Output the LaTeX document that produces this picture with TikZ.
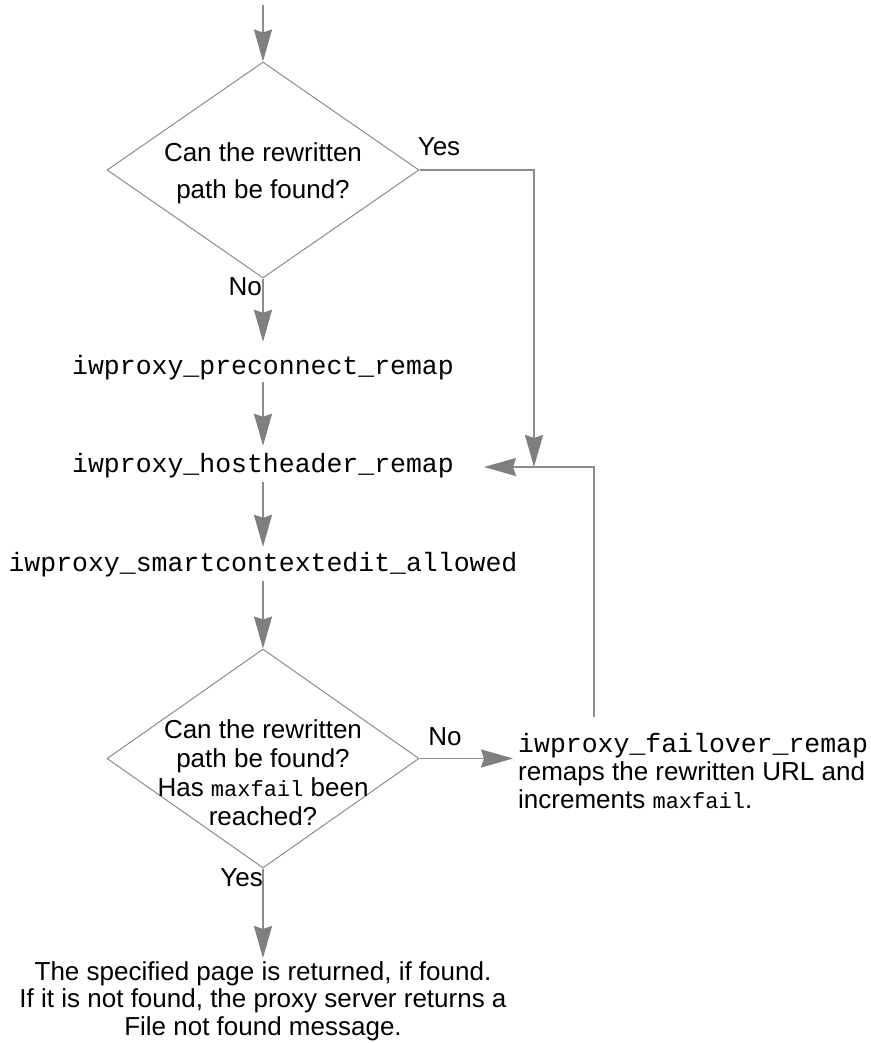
\documentclass[tikz,border=0pt]{standalone}
\usepackage{fontspec}
\setmainfont{Liberation Sans}
\setmonofont{Liberation Mono}
\usetikzlibrary{arrows.meta,calc,shapes.geometric}
\definecolor{ln}{HTML}{8C8C8C}
\definecolor{ah}{HTML}{7F7F7F}
\begin{document}
\begin{tikzpicture}[x=1pt,y=-1pt,
  conn/.style={draw=ln, line width=1.8pt, -{Stealth[length=32pt,width=18pt,inset=3pt,color=ah]}},
  dia/.style={draw=ln, line width=1pt, diamond, minimum width=312pt, minimum height=216pt, inner sep=0pt},
  txt/.style={font=\fontsize{26}{29}\selectfont, inner sep=0pt, align=center},
  code/.style={font=\ttfamily\fontsize{26.5}{30}\selectfont, inner sep=0pt, text height=18pt, text depth=6pt},
  lbl/.style={font=\fontsize{26}{29}\selectfont, inner sep=0pt},
]
\useasboundingbox (0,0) rectangle (870,1043);
\fill[white] (0,0) rectangle (870,1043);

% decision nodes
\node[dia] (d1) at (263,170) {};
\node[txt, font=\fontsize{26}{37}\selectfont, anchor=north] (q1) at (263,142) {Can the rewritten\\path be found?};

\node[code] (pre) at (263,368) {iwproxy\_preconnect\_remap};
\node[code] (host) at (263,466) {iwproxy\_hostheader\_remap};
\node[code] (smart) at (263,565) {iwproxy\_smartcontextedit\_allowed};

\node[dia, minimum height=219pt] (d2) at (263,758.5) {};
\node[txt, anchor=north] (q2) at (263,719) {Can the rewritten\\path be found?\\Has {\ttfamily\fontsize{22}{29}\selectfont maxfail} been\\reached?};

\node[txt, align=left, anchor=north west, font=\fontsize{26}{28}\selectfont] (fail) at (518,733)
  {{\ttfamily\fontsize{26.5}{28}\selectfont iwproxy\_failover\_remap}\\remaps the rewritten URL and\\increments {\ttfamily\fontsize{22}{28}\selectfont maxfail}.};

\node[txt, font=\fontsize{26}{27.5}\selectfont, anchor=north] (res) at (263,961)
  {The specified page is returned, if found.\\If it is not found, the proxy server returns a\\File not found message.};

% labels
\node[lbl] (yes1) at (439,147) {Yes};
\node[lbl, anchor=east] (no1) at (262,287) {No};
\node[lbl] (no2) at (445,737) {No};
\node[lbl, anchor=east] (yes2) at (263,878) {Yes};

% free ends / junctions
\coordinate (top) at (263,5);
\coordinate (j) at (534,467);
\coordinate (fu) at (594,717);

% connectors
\draw[conn] (top) -- (d1.north);
\draw[conn] (d1.east) -- (d1.east -| j) -- (j);
\draw[conn] (d1.south) -- ([yshift=14pt]pre.north);
\draw[conn] ([yshift=-2pt]pre.south) -- ([yshift=8pt]host.north);
\draw[conn] ([yshift=-4pt]host.south) -- ([yshift=6pt]smart.north);
\draw[conn] ([yshift=-4pt]smart.south) -- (d2.north);
\draw[conn] (d2.east) -- ([xshift=-5pt]d2.east -| fail.west);
\draw[conn] (fu) -- (fu |- j) -- ([xshift=30pt]host.east |- j);
\draw[conn] (d2.south) -- ([yshift=3pt]res.north);
\end{tikzpicture}
\end{document}
